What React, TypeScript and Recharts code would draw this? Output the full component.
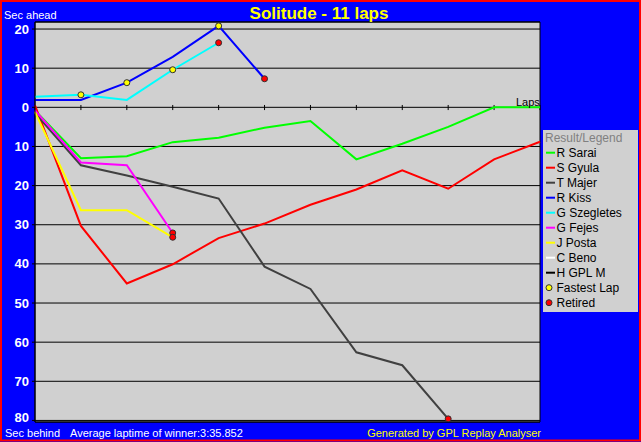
import React from 'react'
import {
  ComposedChart,
  Line,
  Scatter,
  XAxis,
  YAxis,
  CartesianGrid,
  ReferenceLine,
  ReferenceArea,
} from 'recharts'

// seconds relative to the winner: positive = ahead, negative = behind
const laps = [0, 1, 2, 3, 4, 5, 6, 7, 8, 9, 10, 11]
const sarai = [-0.8, -13.0, -12.5, -8.9, -7.8, -5.2, -3.5, -13.3, -9.3, -5.0, 0, 0]
const gyula = [0.5, -30.3, -45.0, -40.1, -33.4, -29.7, -24.9, -21.0, -16.1, -20.8, -13.3, -8.8]
const majer = [-1.5, -14.8, -17.4, -20.3, -23.3, -40.7, -46.4, -62.6, -65.9, -79.6, null, null]
const kiss = [1.9, 1.9, 6.3, 12.9, 20.8, 7.3, null, null, null, null, null, null]
const szegletes = [2.7, 3.2, 1.9, 9.6, 16.5, null, null, null, null, null, null, null]
const fejes = [-0.8, -14.1, -14.8, -32.1, null, null, null, null, null, null, null, null]
const posta = [-1.2, -26.3, -26.3, -33.2, null, null, null, null, null, null, null, null]

const fastestLapLaps = [1, 2, 3, 4]
const fastestLapValues = [3.2, 6.3, 9.6, 20.8]
const retiredLaps = [3, 3, 4, 5, 9]
const retiredValues = [-32.1, -33.2, 16.5, 7.3, -79.6]

const yTicks = [-80, -70, -60, -50, -40, -30, -20, -10, 0, 10, 20]

const drivers = [
  { key: 'sarai', name: 'R Sarai', color: '#00ff00', values: sarai },
  { key: 'gyula', name: 'S Gyula', color: '#ff0000', values: gyula },
  { key: 'majer', name: 'T Majer', color: '#404040', values: majer },
  { key: 'kiss', name: 'R Kiss', color: '#0000ff', values: kiss },
  { key: 'szegletes', name: 'G Szegletes', color: '#00ffff', values: szegletes },
  { key: 'fejes', name: 'G Fejes', color: '#ff00ff', values: fejes },
  { key: 'posta', name: 'J Posta', color: '#ffff00', values: posta },
  { key: 'beno', name: 'C Beno', color: '#ffffff', values: [] as (number | null)[] },
  { key: 'gplm', name: 'H GPL M', color: '#000000', values: [] as (number | null)[] },
]

const data = laps.map((lap, i) => {
  const row: Record<string, number | null> = { lap }
  drivers.forEach((d) => {
    row[d.key] = d.values[i] ?? null
  })
  return row
})

const fastestData = fastestLapLaps.map((lap, i) => ({ lap, value: fastestLapValues[i] }))
const retiredData = retiredLaps.map((lap, i) => ({ lap, value: retiredValues[i] }))

const FONT = '"Liberation Sans", Arial, sans-serif'

const marker = (fill: string) => (props: any) => (
  <circle cx={props.cx} cy={props.cy} r={3} fill={fill} stroke="#303030" strokeWidth={1} />
)

// y tick label, the lowest one nudged up so it clears the footer text
const YTick = (props: any) => {
  const { x, y, payload } = props
  const v = payload.value as number
  return (
    <text
      x={x}
      y={v === -80 ? y - 3 : y}
      dy="0.355em"
      textAnchor="end"
      fill="#fff"
      fontSize={13}
      fontWeight="bold"
      fontFamily={FONT}
    >
      {Math.abs(v)}
    </text>
  )
}

export default function App() {
  return (
    <div style={{ position: 'absolute', left: 0, top: 0, width: 641, height: 442, background: '#0000ff' }}>
      <ComposedChart
        width={641}
        height={442}
        data={data}
        margin={{ top: 22, right: 101, bottom: 20, left: 0 }}
        style={{ position: 'absolute', left: 0, top: 0 }}
      >
        <CartesianGrid vertical={false} stroke="#000" fill="#d0d0d0" />
        <XAxis type="number" dataKey="lap" domain={[0, 11]} hide />
        <YAxis
          type="number"
          domain={[-80.4, 21.8]}
          ticks={yTicks}
          interval={0}
          allowDataOverflow
          width={35}
          tick={<YTick />}
          tickLine={{ stroke: '#000' }}
          tickSize={3}
          tickMargin={3}
          axisLine={{ stroke: '#000' }}
        />
        <ReferenceArea x1={0} x2={11} y1={-80.4} y2={21.8} fill="none" stroke="#000" strokeWidth={1} />
        {laps.slice(1).map((l) => (
          <ReferenceLine
            key={'t' + l}
            segment={[
              { x: l, y: 0.6 },
              { x: l, y: -0.7 },
            ]}
            stroke="#000"
          />
        ))}
        {drivers.map((d) => (
          <Line
            key={d.key}
            type="linear"
            dataKey={d.key}
            stroke={d.color}
            strokeWidth={2}
            dot={false}
            activeDot={false}
            isAnimationActive={false}
          />
        ))}
        <Scatter data={fastestData} dataKey="value" shape={marker('#ffff00')} isAnimationActive={false} />
        <Scatter data={retiredData} dataKey="value" shape={marker('#ff0000')} isAnimationActive={false} />
      </ComposedChart>

      <svg
        width={641}
        height={442}
        style={{ position: 'absolute', left: 0, top: 0, pointerEvents: 'none' }}
        fontFamily={FONT}
      >
        <rect x={1} y={1} width={639} height={439.5} fill="none" stroke="#ff0000" strokeWidth={2} />
        <text x={319} y={19} textAnchor="middle" fill="#ffff00" fontSize={17} fontWeight="bold">
          Solitude - 11 laps
        </text>
        <text x={4} y={19} fill="#fff" fontSize={11}>Sec ahead</text>
        <text x={516} y={105.5} fill="#000" fontSize={11}>Laps</text>
        <text x={5} y={436.5} fill="#fff" fontSize={11}>Sec behind</text>
        <text x={70} y={436.5} fill="#fff" fontSize={11}>Average laptime of winner:3:35.852</text>
        <text x={541} y={436.5} textAnchor="end" fill="#ffff00" fontSize={11}>
          Generated by GPL Replay Analyser
        </text>

        <rect x={543} y={130} width={95} height={182} fill="#d0d0d0" />
        <text x={545} y={141.5} fill="#808080" fontSize={12}>Result/Legend</text>
        {drivers.map((d, i) => (
          <g key={d.key}>
            <line x1={546} x2={555} y1={152.7 + i * 15} y2={152.7 + i * 15} stroke={d.color} strokeWidth={2} />
            <text x={556.5} y={157 + i * 15} fill="#000" fontSize={12}>{d.name}</text>
          </g>
        ))}
        <circle cx={549} cy={152.7 + 9 * 15} r={3} fill="#ffff00" stroke="#303030" />
        <text x={556.5} y={157 + 9 * 15} fill="#000" fontSize={12}>Fastest Lap</text>
        <circle cx={549} cy={152.7 + 10 * 15} r={3} fill="#ff0000" stroke="#303030" />
        <text x={556.5} y={157 + 10 * 15} fill="#000" fontSize={12}>Retired</text>
      </svg>
    </div>
  )
}
